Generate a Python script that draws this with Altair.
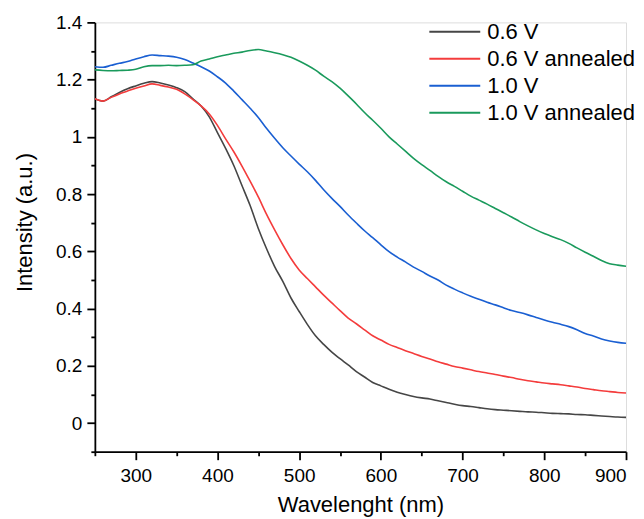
import altair as alt
import pandas as pd

wavelength = list(range(250, 901, 10))

v06 = [1.133, 1.125, 1.14, 1.155, 1.168, 1.178, 1.187, 1.193, 1.188, 1.181,
       1.172, 1.158, 1.133, 1.108, 1.07, 1.015, 0.96, 0.9, 0.83, 0.76,
       0.68, 0.61, 0.547, 0.495, 0.437, 0.39, 0.345, 0.305, 0.275, 0.248,
       0.225, 0.203, 0.18, 0.161, 0.142, 0.13, 0.118, 0.108, 0.1, 0.093,
       0.088, 0.084, 0.078, 0.072, 0.066, 0.061, 0.058, 0.054, 0.05, 0.047,
       0.045, 0.043, 0.041, 0.039, 0.038, 0.036, 0.034, 0.033, 0.032, 0.030,
       0.029, 0.027, 0.025, 0.023, 0.021, 0.020]

v06_annealed = [1.133, 1.125, 1.138, 1.15, 1.16, 1.17, 1.178, 1.185, 1.18, 1.174,
                1.166, 1.15, 1.13, 1.108, 1.08, 1.04, 0.993, 0.948, 0.898, 0.845,
                0.79, 0.73, 0.675, 0.623, 0.575, 0.535, 0.505, 0.476, 0.447, 0.42,
                0.393, 0.367, 0.347, 0.326, 0.305, 0.29, 0.275, 0.264, 0.253, 0.243,
                0.233, 0.224, 0.214, 0.206, 0.198, 0.192, 0.186, 0.18, 0.175, 0.17,
                0.164, 0.159, 0.153, 0.148, 0.144, 0.14, 0.137, 0.134, 0.13, 0.126,
                0.121, 0.117, 0.113, 0.11, 0.107, 0.105]

v10 = [1.245, 1.243, 1.25, 1.257, 1.263, 1.272, 1.28, 1.286, 1.284, 1.282,
       1.278, 1.27, 1.258, 1.245, 1.23, 1.21, 1.188, 1.16, 1.13, 1.1,
       1.068, 1.03, 0.995, 0.962, 0.933, 0.905, 0.878, 0.848, 0.815, 0.785,
       0.757, 0.727, 0.699, 0.672, 0.648, 0.623, 0.599, 0.58, 0.563, 0.545,
       0.53, 0.514, 0.5, 0.482, 0.468, 0.455, 0.443, 0.433, 0.422, 0.413,
       0.403, 0.393, 0.386, 0.378, 0.369, 0.36, 0.352, 0.345, 0.337, 0.326,
       0.313, 0.304, 0.294, 0.287, 0.282, 0.279]

v10_annealed = [1.234, 1.232, 1.231, 1.232, 1.233, 1.236, 1.245, 1.249, 1.249, 1.25,
                1.249, 1.25, 1.252, 1.265, 1.272, 1.28, 1.286, 1.292, 1.296, 1.302,
                1.305, 1.3, 1.294, 1.287, 1.278, 1.265, 1.25, 1.233, 1.212, 1.193,
                1.17, 1.143, 1.115, 1.085, 1.058, 1.03, 1.0, 0.975, 0.95, 0.925,
                0.903, 0.883, 0.862, 0.843, 0.827, 0.81, 0.793, 0.779, 0.765, 0.75,
                0.735, 0.72, 0.704, 0.689, 0.675, 0.662, 0.651, 0.641, 0.628, 0.612,
                0.597, 0.583, 0.568, 0.557, 0.552, 0.548]

series_names = ["0.6 V", "0.6 V annealed", "1.0 V", "1.0 V annealed"]
series_colors = ["#464646", "#f43c3c", "#1a5fd2", "#1a9a5c"]

x_major = [300, 400, 500, 600, 700, 800, 900]
x_minor = [250, 350, 450, 550, 650, 750, 850]
y_major = [0, 0.2, 0.4, 0.6, 0.8, 1.0, 1.2, 1.4]
y_minor = [-0.1, 0.1, 0.3, 0.5, 0.7, 0.9, 1.1, 1.3]

rows = []
for name, vals in zip(series_names, [v06, v06_annealed, v10, v10_annealed]):
    for w, v in zip(wavelength, vals):
        rows.append({"Wavelength": w, "Intensity": v, "Series": name})
df = pd.DataFrame(rows)

FONT = "Liberation Sans"

xscale = alt.Scale(domain=[250, 900], nice=False, zero=False)
yscale = alt.Scale(domain=[-0.1, 1.4], nice=False, zero=False)

main = alt.Chart(df).mark_line(strokeWidth=1.6, clip=True, interpolate="monotone").encode(
    x=alt.X("Wavelength:Q", scale=xscale,
            axis=alt.Axis(values=x_major, format="d", title="Wavelenght (nm)",
                          orient="bottom", grid=False, domainColor="black",
                          domainWidth=1.8, tickColor="black", tickWidth=1.8,
                          tickSize=8, labelFontSize=19, labelFont=FONT,
                          labelColor="black", labelPadding=7,
                          titleFont=FONT, titleFontSize=22, titleFontWeight="normal",
                          titleColor="black", titleY=60, titleBaseline="alphabetic")),
    y=alt.Y("Intensity:Q", scale=yscale,
            axis=alt.Axis(values=y_major, format="~g", title="Intensity (a.u.)",
                          orient="left", grid=False, domainColor="black",
                          domainWidth=1.8, tickColor="black", tickWidth=1.8,
                          tickSize=8, labelFontSize=19, labelFont=FONT,
                          labelColor="black", labelPadding=5,
                          titleFont=FONT, titleFontSize=22, titleFontWeight="normal",
                          titleColor="black", titleX=-63, titleY=200,
                          titleAngle=270, titleBaseline="alphabetic", titleAlign="center")),
    color=alt.Color("Series:N",
                    scale=alt.Scale(domain=series_names, range=series_colors),
                    legend=alt.Legend(title=None, orient="none", legendX=334, legendY=-3,
                                      symbolType="stroke", symbolSize=2600,
                                      symbolStrokeWidth=2, labelFont=FONT,
                                      labelFontSize=22, labelColor="black",
                                      labelOffset=6, rowPadding=2, clipHeight=25)),
)

minor = alt.Chart(df).mark_line(opacity=0).encode(
    x=alt.X("Wavelength:Q", scale=xscale,
            axis=alt.Axis(values=x_minor, labels=False, title=None, orient="bottom",
                          grid=False, domain=False, tickColor="black",
                          tickWidth=1.8, tickSize=4)),
    y=alt.Y("Intensity:Q", scale=yscale,
            axis=alt.Axis(values=y_minor, labels=False, title=None, orient="left",
                          grid=False, domain=False, tickColor="black",
                          tickWidth=1.8, tickSize=4)),
    detail="Series:N",
)

chart = alt.layer(main, minor).resolve_axis(x="independent", y="independent").properties(
    width=532, height=430,
    autosize=alt.AutoSizeParams(type="none"),
    padding={"left": 87, "top": 14, "right": 10, "bottom": 66},
).configure_view(stroke=None).configure(background="white")

chart.save("out.html", embed_options={"renderer": "svg", "actions": False})
